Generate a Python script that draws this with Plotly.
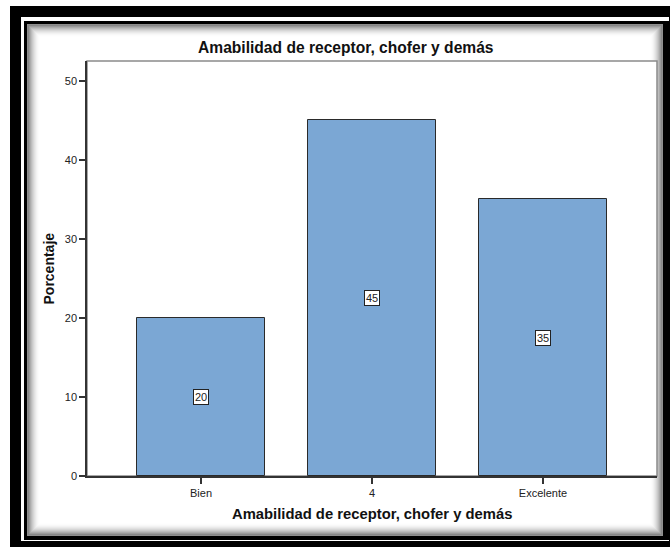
import plotly.graph_objects as go

# Data
categories = ["Bien", "4", "Excelente"]
percentages = [20, 45, 35]
y_ticks = [0, 10, 20, 30, 40, 50]

title_text = "Amabilidad de receptor, chofer y demás"
x_title = "Amabilidad de receptor, chofer y demás"
y_title = "Porcentaje"

W, H = 670, 547
L, R, T, B = 87, 657, 61, 476  # plot area in pixels

FONT = "Liberation Sans, Arial, sans-serif"
BAR_COLOR = "#7ba7d4"


def px(x):
    return (x - L) / (R - L)


def py(y):
    return (B - y) / (B - T)


def rect(x0, y0, x1, y1, fill, line_color=None, line_width=0):
    return dict(
        type="rect", xref="paper", yref="paper", layer="below",
        x0=px(x0), x1=px(x1), y0=py(y1), y1=py(y0),
        fillcolor=fill,
        line=dict(color=line_color or "rgba(0,0,0,0)", width=line_width),
    )


shapes = []
# Outer heavy frame
shapes.append(rect(10, 6, 700, 580, "black"))
shapes.append(rect(21, 17, 669, 541, "white"))
# Inner framed box with a drop-shadow edge
shapes.append(rect(24, 21, 669, 540, "black"))
shapes.append(rect(27, 24, 663, 536, "#8f8f8f"))
# Inner soft shading fading to white
steps = 13
for k in range(1, steps + 1):
    t = k / steps
    c = int(round(255 - 140 * (1 - t) ** 2))
    shapes.append(rect(27 + k, 24 + k, 663 - k, 536 - k, f"rgb({c},{c},{c})"))
shapes.append(rect(27 + steps + 1, 24 + steps + 1, 663 - steps - 1, 536 - steps - 1, "white"))
# Plot frame (top/right in gray)
shapes.append(dict(type="rect", xref="paper", yref="paper", layer="below",
                   x0=0, x1=1, y0=0, y1=1, fillcolor="white",
                   line=dict(color="#8a8a8a", width=1.5)))

fig = go.Figure()
fig.add_trace(go.Bar(
    x=list(range(len(categories))),
    y=percentages,
    width=0.75,
    marker=dict(color=BAR_COLOR, line=dict(color="#2a2a2a", width=1)),
    hoverinfo="skip",
))

annotations = []
for i, v in enumerate(percentages):
    annotations.append(dict(
        x=i, y=v / 2, xref="x", yref="y", text=str(v), showarrow=False,
        font=dict(family=FONT, size=11, color="#222"),
        bgcolor="white", bordercolor="#222", borderwidth=1, borderpad=1,
    ))

annotations.append(dict(
    x=px(345.5), y=py(47), xref="paper", yref="paper",
    xanchor="center", yanchor="middle", showarrow=False,
    text=f"<b>{title_text}</b>", font=dict(family=FONT, size=15.6, color="#111"),
))
annotations.append(dict(
    x=0.5, y=py(514), xref="paper", yref="paper",
    xanchor="center", yanchor="middle", showarrow=False,
    text=f"<b>{x_title}</b>", font=dict(family=FONT, size=14.8, color="#111"),
))
annotations.append(dict(
    x=px(48), y=py(268.5), xref="paper", yref="paper", textangle=-90,
    xanchor="center", yanchor="middle", showarrow=False,
    text=f"<b>{y_title}</b>", font=dict(family=FONT, size=14, color="#111"),
))

fig.update_layout(
    width=W, height=H,
    margin=dict(l=L, r=W - R, t=T, b=H - B, pad=0),
    paper_bgcolor="white",
    plot_bgcolor="rgba(0,0,0,0)",
    showlegend=False,
    shapes=shapes,
    annotations=annotations,
    bargap=0,
)
fig.update_xaxes(
    range=[-0.667, 2.667],
    tickmode="array", tickvals=list(range(len(categories))), ticktext=categories,
    ticks="outside", ticklen=6, tickwidth=1.5, tickcolor="#333",
    showline=True, linecolor="#333", linewidth=1.5,
    showgrid=False, zeroline=False,
    tickfont=dict(family=FONT, size=11, color="#222"),
)
fig.update_yaxes(
    range=[0, 52.5],
    tickmode="array", tickvals=y_ticks,
    ticks="outside", ticklen=6, tickwidth=1.5, tickcolor="#333",
    showline=True, linecolor="#333", linewidth=1.5,
    showgrid=False, zeroline=False,
    tickfont=dict(family=FONT, size=11, color="#222"),
)

fig.write_html("out.html")
